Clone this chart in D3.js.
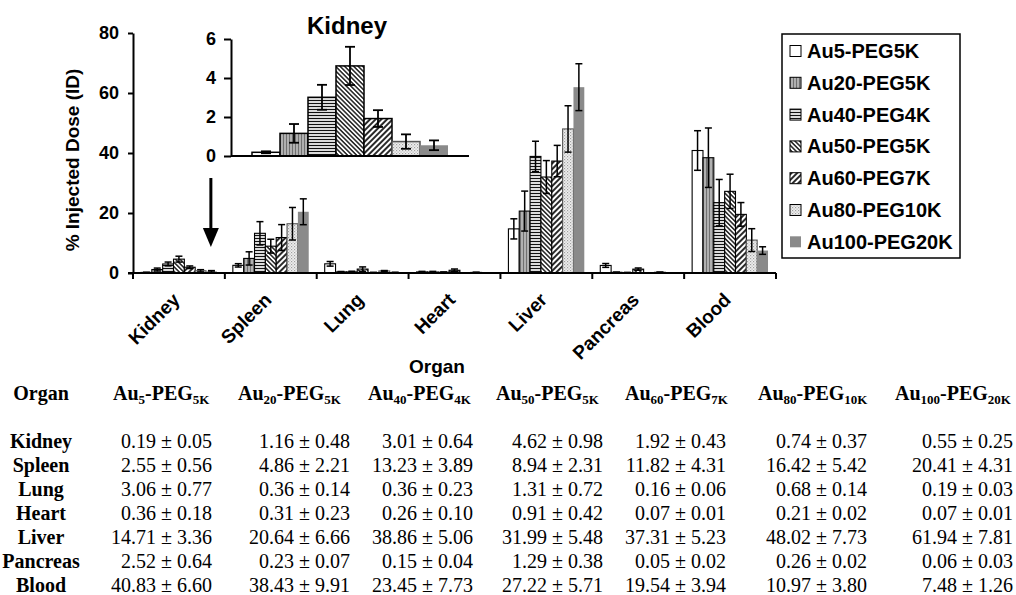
<!DOCTYPE html>
<html>
<head>
<meta charset="utf-8">
<script src="https://cdn.jsdelivr.net/npm/d3@7"></script>
<style>
  body { margin: 0; background: #fff; }
  svg { display: block; }
</style>
</head>
<body>
<svg id="chart" width="1016" height="595"></svg>
<script>
// ---- data ----
const organs = ["Kidney", "Spleen", "Lung", "Heart", "Liver", "Pancreas", "Blood"];
const seriesNames = ["Au5-PEG5K", "Au20-PEG5K", "Au40-PEG4K", "Au50-PEG5K", "Au60-PEG7K", "Au80-PEG10K", "Au100-PEG20K"];
const seriesCore = ["5", "20", "40", "50", "60", "80", "100"];
const seriesShell = ["5K", "5K", "4K", "5K", "7K", "10K", "20K"];

// mean % injected dose per organ (order of `organs`)
const au5Mean   = [0.19, 2.55, 3.06, 0.36, 14.71, 2.52, 40.83];
const au20Mean  = [1.16, 4.86, 0.36, 0.31, 20.64, 0.23, 38.43];
const au40Mean  = [3.01, 13.23, 0.36, 0.26, 38.86, 0.15, 23.45];
const au50Mean  = [4.62, 8.94, 1.31, 0.91, 31.99, 1.29, 27.22];
const au60Mean  = [1.92, 11.82, 0.16, 0.07, 37.31, 0.05, 19.54];
const au80Mean  = [0.74, 16.42, 0.68, 0.21, 48.02, 0.26, 10.97];
const au100Mean = [0.55, 20.41, 0.19, 0.07, 61.94, 0.06, 7.48];

// standard deviations
const au5Sd   = [0.05, 0.56, 0.77, 0.18, 3.36, 0.64, 6.60];
const au20Sd  = [0.48, 2.21, 0.14, 0.23, 6.66, 0.07, 9.91];
const au40Sd  = [0.64, 3.89, 0.23, 0.10, 5.06, 0.04, 7.73];
const au50Sd  = [0.98, 2.31, 0.72, 0.42, 5.48, 0.38, 5.71];
const au60Sd  = [0.43, 4.31, 0.06, 0.01, 5.23, 0.02, 3.94];
const au80Sd  = [0.37, 5.42, 0.14, 0.02, 7.73, 0.02, 3.80];
const au100Sd = [0.25, 4.31, 0.03, 0.01, 7.81, 0.03, 1.26];

const yTicksMain = [0, 20, 40, 60, 80];
const yTicksInset = [0, 2, 4, 6];

const means = [au5Mean, au20Mean, au40Mean, au50Mean, au60Mean, au80Mean, au100Mean];
const sds = [au5Sd, au20Sd, au40Sd, au50Sd, au60Sd, au80Sd, au100Sd];

// ---- setup ----
const SANS = "'Liberation Sans', Arial, Helvetica, sans-serif";
const SERIF = "'Liberation Serif', 'Times New Roman', serif";
const svg = d3.select("#chart");
const defs = svg.append("defs");

// fill patterns, one per series
function stripePattern(id, angle, period, width, bg, color) {
  const p = defs.append("pattern")
    .attr("id", id).attr("patternUnits", "userSpaceOnUse")
    .attr("width", period).attr("height", period)
    .attr("patternTransform", `rotate(${angle})`);
  p.append("rect").attr("width", period).attr("height", period).attr("fill", bg);
  p.append("line").attr("x1", period / 2).attr("x2", period / 2)
    .attr("y1", 0).attr("y2", period)
    .attr("stroke", color).attr("stroke-width", width);
}
stripePattern("pat1", 0, 3, 1, "#b0b0b0", "#707070");     // vertical, grey
stripePattern("pat2", 90, 3, 1.3, "#ffffff", "#111111");  // horizontal
stripePattern("pat3", -45, 3.2, 1.4, "#ffffff", "#111111"); // "\" dense
stripePattern("pat4", 45, 4, 1.8, "#ffffff", "#111111");    // "/" wider
{
  const p = defs.append("pattern").attr("id", "pat5").attr("patternUnits", "userSpaceOnUse")
    .attr("width", 3).attr("height", 3);
  p.append("rect").attr("width", 3).attr("height", 3).attr("fill", "#efefef");
  p.append("rect").attr("x", 0).attr("y", 0).attr("width", 1.2).attr("height", 1.2).attr("fill", "#a0a0a0");
  p.append("rect").attr("x", 1.5).attr("y", 1.5).attr("width", 1.2).attr("height", 1.2).attr("fill", "#b8b8b8");
}
const fills = ["#ffffff", "url(#pat1)", "url(#pat2)", "url(#pat3)", "url(#pat4)", "url(#pat5)", "#8a8a8a"];
const strokes = ["#000", "#000", "#000", "#000", "#000", "#555", "none"];

// ---- main chart ----
const x = d3.scaleBand().domain(organs).range([133, 776]).paddingInner(0.174).paddingOuter(0.087);
const xs = d3.scaleBand().domain(seriesNames).range([0, x.bandwidth()]);
const y = d3.scaleLinear().domain([0, 80]).range([273, 33]);

const main = svg.append("g");
seriesNames.forEach((s, i) => {
  const g = main.append("g");
  g.selectAll("rect").data(organs).join("rect")
    .attr("x", (o) => x(o) + xs(s))
    .attr("y", (o, j) => y(means[i][j]))
    .attr("width", xs.bandwidth())
    .attr("height", (o, j) => y(0) - y(means[i][j]))
    .attr("fill", fills[i])
    .attr("stroke", strokes[i])
    .attr("stroke-width", 1.1);
});
// error bars
seriesNames.forEach((s, i) => {
  const g = main.append("g").attr("stroke", "#000").attr("stroke-width", 1.5);
  organs.forEach((o, j) => {
    const cx = x(o) + xs(s) + xs.bandwidth() / 2;
    const lo = y(means[i][j] - sds[i][j]), hi = y(means[i][j] + sds[i][j]);
    g.append("line").attr("x1", cx).attr("x2", cx).attr("y1", lo).attr("y2", hi);
    g.append("line").attr("x1", cx - 3.5).attr("x2", cx + 3.5).attr("y1", lo).attr("y2", lo);
    g.append("line").attr("x1", cx - 3.5).attr("x2", cx + 3.5).attr("y1", hi).attr("y2", hi);
  });
});

// y axis
const yAxis = svg.append("g").attr("transform", "translate(133,0)")
  .call(d3.axisLeft(y).tickValues(yTicksMain).tickFormat(d3.format("d"))
    .tickSize(5).tickSizeOuter(0).tickPadding(9));
yAxis.select(".domain").attr("stroke", "#000").attr("stroke-width", 2);
yAxis.selectAll(".tick line").attr("stroke", "#000").attr("stroke-width", 2);
yAxis.selectAll(".tick text").attr("font-family", SANS).attr("font-weight", "bold")
  .attr("font-size", 18).attr("fill", "#000");

// x axis with ticks on category boundaries
const gap = (x.step() - x.bandwidth()) / 2;
const bounds = organs.map((o) => x(o) - gap).concat([x(organs[organs.length - 1]) + x.bandwidth() + gap]);
const xAxis = svg.append("g");
xAxis.append("line").attr("x1", 128).attr("x2", bounds[bounds.length - 1])
  .attr("y1", y(0)).attr("y2", y(0)).attr("stroke", "#000").attr("stroke-width", 2);
xAxis.selectAll("line.tk").data(bounds).join("line").attr("class", "tk")
  .attr("x1", (d) => d).attr("x2", (d) => d).attr("y1", y(0)).attr("y2", y(0) + 6)
  .attr("stroke", "#000").attr("stroke-width", 2);
xAxis.selectAll("text").data(organs).join("text")
  .attr("transform", (o) => `translate(${x(o) + x.bandwidth() / 2 + 2},301) rotate(-45)`)
  .attr("text-anchor", "end")
  .attr("font-family", SANS).attr("font-weight", "bold").attr("font-size", 19)
  .text((o) => o);

// axis titles
svg.append("text").attr("x", 437).attr("y", 373).attr("text-anchor", "middle")
  .attr("font-family", SANS).attr("font-weight", "bold").attr("font-size", 19).text("Organ");
svg.append("text").attr("transform", "translate(79,160) rotate(-90)").attr("text-anchor", "middle")
  .attr("font-family", SANS).attr("font-weight", "bold").attr("font-size", 19).text("% Injected Dose (ID)");

// ---- inset: kidney ----
const kid = organs.indexOf("Kidney");
const xi = d3.scaleBand().domain(seriesNames).range([231, 469]).paddingInner(0).paddingOuter(0.75);
const yi = d3.scaleLinear().domain([0, 6]).range([156, 39]);
const inset = svg.append("g");
inset.selectAll("rect").data(seriesNames).join("rect")
  .attr("x", (s) => xi(s)).attr("width", xi.bandwidth())
  .attr("y", (s, i) => yi(means[i][kid]))
  .attr("height", (s, i) => yi(0) - yi(means[i][kid]))
  .attr("fill", (s, i) => fills[i]).attr("stroke", (s, i) => strokes[i]).attr("stroke-width", 1.5);
const ie = inset.append("g").attr("stroke", "#000").attr("stroke-width", 1.8);
seriesNames.forEach((s, i) => {
  const cx = xi(s) + xi.bandwidth() / 2;
  const lo = yi(means[i][kid] - sds[i][kid]), hi = yi(means[i][kid] + sds[i][kid]);
  ie.append("line").attr("x1", cx).attr("x2", cx).attr("y1", lo).attr("y2", hi);
  ie.append("line").attr("x1", cx - 5).attr("x2", cx + 5).attr("y1", lo).attr("y2", lo);
  ie.append("line").attr("x1", cx - 5).attr("x2", cx + 5).attr("y1", hi).attr("y2", hi);
});
const iy = svg.append("g").attr("transform", "translate(231,0)")
  .call(d3.axisLeft(yi).tickValues(yTicksInset).tickFormat(d3.format("d"))
    .tickSize(7).tickSizeOuter(0).tickPadding(8));
iy.select(".domain").attr("stroke", "#000").attr("stroke-width", 2);
iy.selectAll(".tick line").attr("stroke", "#000").attr("stroke-width", 2);
iy.selectAll(".tick text").attr("font-family", SANS).attr("font-weight", "bold")
  .attr("font-size", 18).attr("fill", "#000");
svg.append("line").attr("x1", 231).attr("x2", 469).attr("y1", yi(0)).attr("y2", yi(0))
  .attr("stroke", "#000").attr("stroke-width", 2);
svg.append("text").attr("x", 347).attr("y", 34).attr("text-anchor", "middle")
  .attr("font-family", SANS).attr("font-weight", "bold").attr("font-size", 24).text("Kidney");

// arrow pointing to the kidney group
const ax = x("Kidney") + x.bandwidth() - 6;
svg.append("line").attr("x1", ax).attr("x2", ax).attr("y1", 178).attr("y2", 232)
  .attr("stroke", "#000").attr("stroke-width", 3);
svg.append("path").attr("d", `M${ax - 8},228 L${ax + 8},228 L${ax},247 Z`).attr("fill", "#000");

// ---- legend ----
const leg = svg.append("g");
leg.append("rect").attr("x", 782).attr("y", 34).attr("width", 178).attr("height", 224)
  .attr("fill", "#fff").attr("stroke", "#000").attr("stroke-width", 1.5);
seriesNames.forEach((s, i) => {
  const cy = 51 + i * 31.8;
  leg.append("rect").attr("x", 790).attr("y", cy - 5.5).attr("width", 11).attr("height", 11)
    .attr("fill", fills[i]).attr("stroke", strokes[i] === "none" ? "none" : "#000").attr("stroke-width", 1);
  leg.append("text").attr("x", 807).attr("y", cy + 7)
    .attr("font-family", SANS).attr("font-weight", "bold").attr("font-size", 20).text(s);
});

// ---- data table ----
const table = svg.append("g").attr("font-family", SERIF).attr("font-size", 20).attr("fill", "#000");
const headLeft = [113, 238, 368, 496, 625, 758, 895];
const valRight = [212, 350, 473, 603, 726, 867, 1013];
table.append("text").attr("x", 41).attr("y", 400).attr("text-anchor", "middle")
  .attr("font-weight", "bold").text("Organ");
seriesNames.forEach((s, i) => {
  const t = table.append("text").attr("x", headLeft[i]).attr("y", 400).attr("font-weight", "bold");
  t.append("tspan").text("Au");
  t.append("tspan").attr("font-size", 13).attr("dy", 4).text(seriesCore[i]);
  t.append("tspan").attr("dy", -4).text("-PEG");
  t.append("tspan").attr("font-size", 13).attr("dy", 4).text(seriesShell[i]);
});
organs.forEach((o, j) => {
  const by = 448.3 + j * 23.9;
  table.append("text").attr("x", 41).attr("y", by).attr("text-anchor", "middle")
    .attr("font-weight", "bold").text(o);
  seriesNames.forEach((s, i) => {
    table.append("text").attr("x", valRight[i]).attr("y", by).attr("text-anchor", "end")
      .text(`${means[i][j].toFixed(2)} \u00b1 ${sds[i][j].toFixed(2)}`);
  });
});
</script>
</body>
</html>
